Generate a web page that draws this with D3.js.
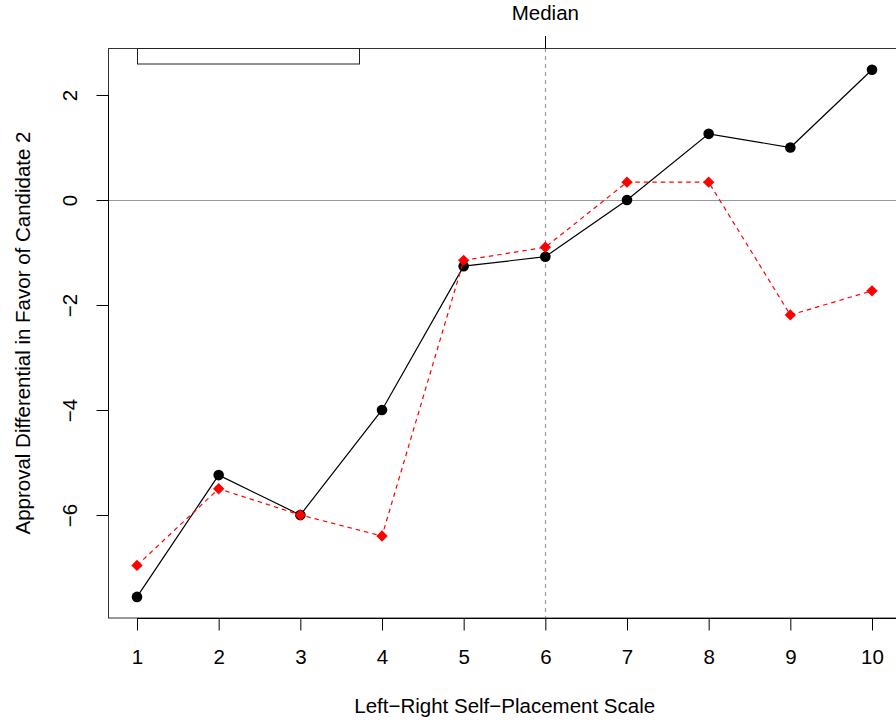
<!DOCTYPE html>
<html><head><meta charset="utf-8">
<script src="https://cdn.jsdelivr.net/npm/d3@7"></script>
<style>body{margin:0;background:#fff}svg{display:block}text{font-family:"Liberation Sans",Arial,sans-serif}</style>
</head><body><svg id="c" width="896" height="723"></svg>
<script>
const scalePoints = [1,2,3,4,5,6,7,8,9,10];
const seriesBlack = [-7.56,-5.24,-6.0,-4.0,-1.26,-1.08,0.0,1.26,1.0,2.48];
const seriesRed = [-6.96,-5.50,-6.0,-6.40,-1.15,-0.90,0.34,0.34,-2.19,-1.73];
const yTicks = [-6,-4,-2,0,2];
const medianValue = 6;
const xTitle = "Left\u2212Right Self\u2212Placement Scale";
const yTitle = "Approval Differential in Favor of Candidate 2";
const FS = 20.5;

const svg = d3.select("#c");
const x = d3.scaleLinear().domain([0.64,10.36]).range([107.6,901.4]);
const y = d3.scaleLinear().domain([-7.962,2.895]).range([618,48]);

// reference lines
svg.append("line").attr("x1",108).attr("x2",896).attr("y1",Math.round(y(0))+0.5).attr("y2",Math.round(y(0))+0.5)
  .attr("stroke","#999").attr("stroke-width",1.2);
svg.append("line").attr("x1",Math.round(x(medianValue))+0.5).attr("x2",Math.round(x(medianValue))+0.5).attr("y1",48).attr("y2",618)
  .attr("stroke","#999").attr("stroke-dasharray","4,4").attr("stroke-width",1.2);

// box
svg.append("rect").attr("x",108.5).attr("y",48.5).attr("width",800).attr("height",569.5)
  .attr("fill","none").attr("stroke","#333").attr("stroke-width",1);

// legend box (clipped at top)
svg.append("rect").attr("x",137.5).attr("y",48.5).attr("width",222).attr("height",15.5)
  .attr("fill","none").attr("stroke","#222").attr("stroke-width",1);

const line = d3.line().x((d,i)=>x(scalePoints[i])).y(d=>y(d));
// black series
svg.append("path").attr("d",line(seriesBlack)).attr("fill","none").attr("stroke","#000").attr("stroke-width",1.2);
svg.selectAll("circle.b").data(seriesBlack).enter().append("circle")
  .attr("cx",(d,i)=>x(scalePoints[i])).attr("cy",d=>y(d)).attr("r",5.3).attr("fill","#000");
// red series
svg.append("path").attr("d",line(seriesRed)).attr("fill","none").attr("stroke","#ff0000")
  .attr("stroke-width",1.2).attr("stroke-dasharray","4.5,4");
const dia = d3.symbol().type(d3.symbolSquare).size(64);
svg.selectAll("path.r").data(seriesRed).enter().append("path")
  .attr("d",dia).attr("fill","#ff0000")
  .attr("transform",(d,i)=>`translate(${x(scalePoints[i])},${y(d)}) rotate(45)`);

// bottom axis
const gx = svg.append("g").attr("transform","translate(0,618.5)")
  .call(d3.axisBottom(x).tickValues(scalePoints).tickSize(12).tickFormat(d3.format("d")));
gx.select(".domain").attr("d",`M${x(1)},0H${896}`).attr("stroke","#000");
gx.selectAll("text").attr("font-size",FS).attr("fill","#000").attr("y",45).attr("dy",0);
gx.selectAll("line").attr("stroke","#000");
// left axis
const gy = svg.append("g").attr("transform","translate(108.5,0)")
  .call(d3.axisLeft(y).tickValues(yTicks).tickSize(12).tickFormat(d=>d<0?"\u2212"+Math.abs(d):d));
gy.select(".domain").attr("d",`M0,${y(-6)}V${y(2)}`).attr("stroke","#000");
gy.selectAll("line").attr("stroke","#000");
gy.selectAll("text").attr("font-size",FS).attr("fill","#000")
  .attr("text-anchor","middle").attr("x",0).attr("y",0).attr("dy","0.36em")
  .attr("transform","translate(-38.5,0) rotate(-90)");
// top median tick
svg.append("line").attr("x1",Math.round(x(medianValue))+0.5).attr("x2",Math.round(x(medianValue))+0.5)
  .attr("y1",48).attr("y2",36).attr("stroke","#000");
svg.append("text").attr("x",x(medianValue)).attr("y",20).attr("text-anchor","middle")
  .attr("font-size",FS).text("Median");

// titles
svg.append("text").attr("x",(108+901.4)/2).attr("y",712.5).attr("text-anchor","middle").attr("font-size",FS).text(xTitle);
svg.append("text").attr("transform",`translate(29.5,333) rotate(-90)`).attr("text-anchor","middle")
  .attr("font-size",FS).text(yTitle);
</script></body></html>
